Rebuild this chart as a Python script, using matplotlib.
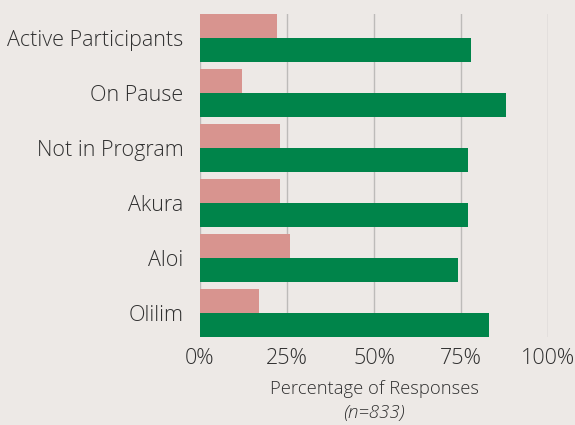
import matplotlib
matplotlib.use("Agg")
import matplotlib.pyplot as plt
import numpy as np

categories = ["Active Participants", "On Pause", "Not in Program", "Akura", "Aloi", "Olilim"]
pink_values = [22, 12, 23, 23, 26, 17]
green_values = [78, 88, 77, 77, 74, 83]
xticks = [0, 25, 50, 75, 100]
xtick_labels = ["0%", "25%", "50%", "75%", "100%"]

BG = "#EDE9E6"
PINK = "#D8948F"
GREEN = "#00844A"
TEXT = "#303030"

plt.rcParams['font.family'] = ['Open Sans', 'DejaVu Sans']

fig = plt.figure(figsize=(5.75, 4.25), dpi=100, facecolor=BG)
ax = fig.add_axes([200/575, 1 - 337/425, 348/575, (337-14)/425])
ax.set_facecolor(BG)

y = np.arange(len(categories))
h = 0.43
ax.barh(y - 0.22, pink_values, height=h, color=PINK, zorder=3)
ax.barh(y + 0.22, green_values, height=h, color=GREEN, zorder=3)

ax.set_xlim(0, 100)
ax.set_ylim(5.435, -0.435)
ax.set_yticks(y)
ax.set_yticklabels(categories, fontsize=15.5, color=TEXT, fontweight='light')
ax.set_xticks(xticks)
ax.set_xticklabels(xtick_labels, fontsize=15.5, color=TEXT, fontweight='light')
ax.tick_params(axis='y', length=0, pad=12)
ax.tick_params(axis='x', length=0, pad=8)
for s in ax.spines.values():
    s.set_visible(False)
ax.grid(axis='x', color="#BDBBB9", linewidth=1, zorder=0)
ax.set_axisbelow(True)

ax.set_xlabel("Percentage of Responses", fontsize=13.2, color=TEXT, labelpad=8,
              fontweight='light')
pos = ax.get_position()
fig.text(pos.x0 + pos.width / 2, 12/425, "(n=833)", fontsize=13.6, style='italic',
         color=TEXT, ha='center', va='center', fontweight='light')

fig.savefig("out.png", dpi=100, facecolor=BG)
